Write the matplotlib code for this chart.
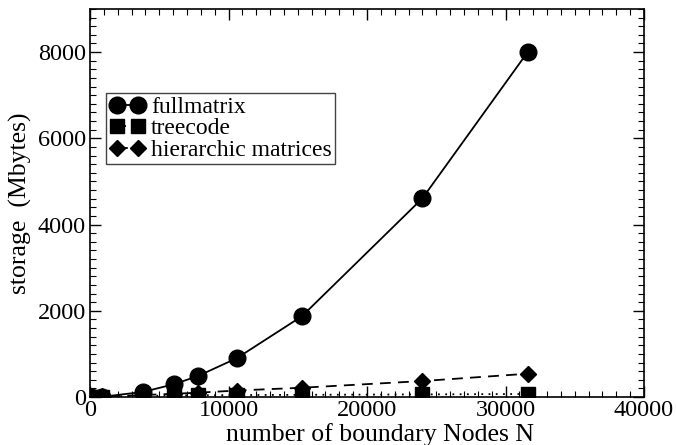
import numpy as np
import matplotlib
matplotlib.use('Agg')
import matplotlib.pyplot as plt
from matplotlib.ticker import MultipleLocator

# values
nodes = [100, 900, 3840, 6100, 7800, 10600, 15300, 24000, 31600]
fullmatrix = [0.1, 6, 118, 300, 487, 900, 1873, 4608, 8000]
treecode = [2, 10, 25, 35, 40, 45, 50, 60, 70]
hierarchic = [2, 12, 45, 75, 100, 150, 215, 370, 540]

plt.rcParams['font.family'] = ['Liberation Serif', 'DejaVu Serif']

fig = plt.figure(figsize=(6.76, 4.45), dpi=100)
ax = fig.add_axes([90 / 676, 1 - 397 / 445, 554 / 676, 388 / 445])

ax.plot(nodes, fullmatrix, color='black', lw=1.3, ls='-', marker='o', ms=12,
        label='fullmatrix')
ax.plot(nodes, treecode, color='black', lw=1.3, ls=(0, (1, 3)), marker='s', ms=10,
        label='treecode')
ax.plot(nodes, hierarchic, color='black', lw=1.3, ls=(0, (6, 4)), marker='D', ms=8.5,
        label='hierarchic matrices')

ax.set_xlim(0, 40000)
ax.set_ylim(0, 9000)
ax.xaxis.set_major_locator(MultipleLocator(10000))
ax.xaxis.set_minor_locator(MultipleLocator(1000))
ax.yaxis.set_major_locator(MultipleLocator(2000))
ax.yaxis.set_minor_locator(MultipleLocator(200))
ax.tick_params(which='both', direction='in', top=True, right=True, labelsize=17.5)
ax.tick_params(which='major', length=8, width=1)
ax.tick_params(which='minor', length=4, width=0.8)
ax.tick_params(axis='x', pad=2)
ax.tick_params(axis='y', pad=3)
for s in ax.spines.values():
    s.set_linewidth(1.2)

ax.set_xlabel('number of boundary Nodes N', fontsize=18.5)
ax.xaxis.set_label_coords(0.523, -0.066)
ax.set_ylabel('storage  (Mbytes)', fontsize=18.5, labelpad=4)

leg = ax.legend(loc='upper left', bbox_to_anchor=(0.029, 0.784), borderaxespad=0,
                numpoints=2, fontsize=17, fancybox=False, framealpha=1,
                edgecolor='#444444', handlelength=1.5, handletextpad=0.25,
                labelspacing=0.0, borderpad=0.15)
leg.get_frame().set_linewidth(1.0)

fig.savefig('out.png', dpi=100)
